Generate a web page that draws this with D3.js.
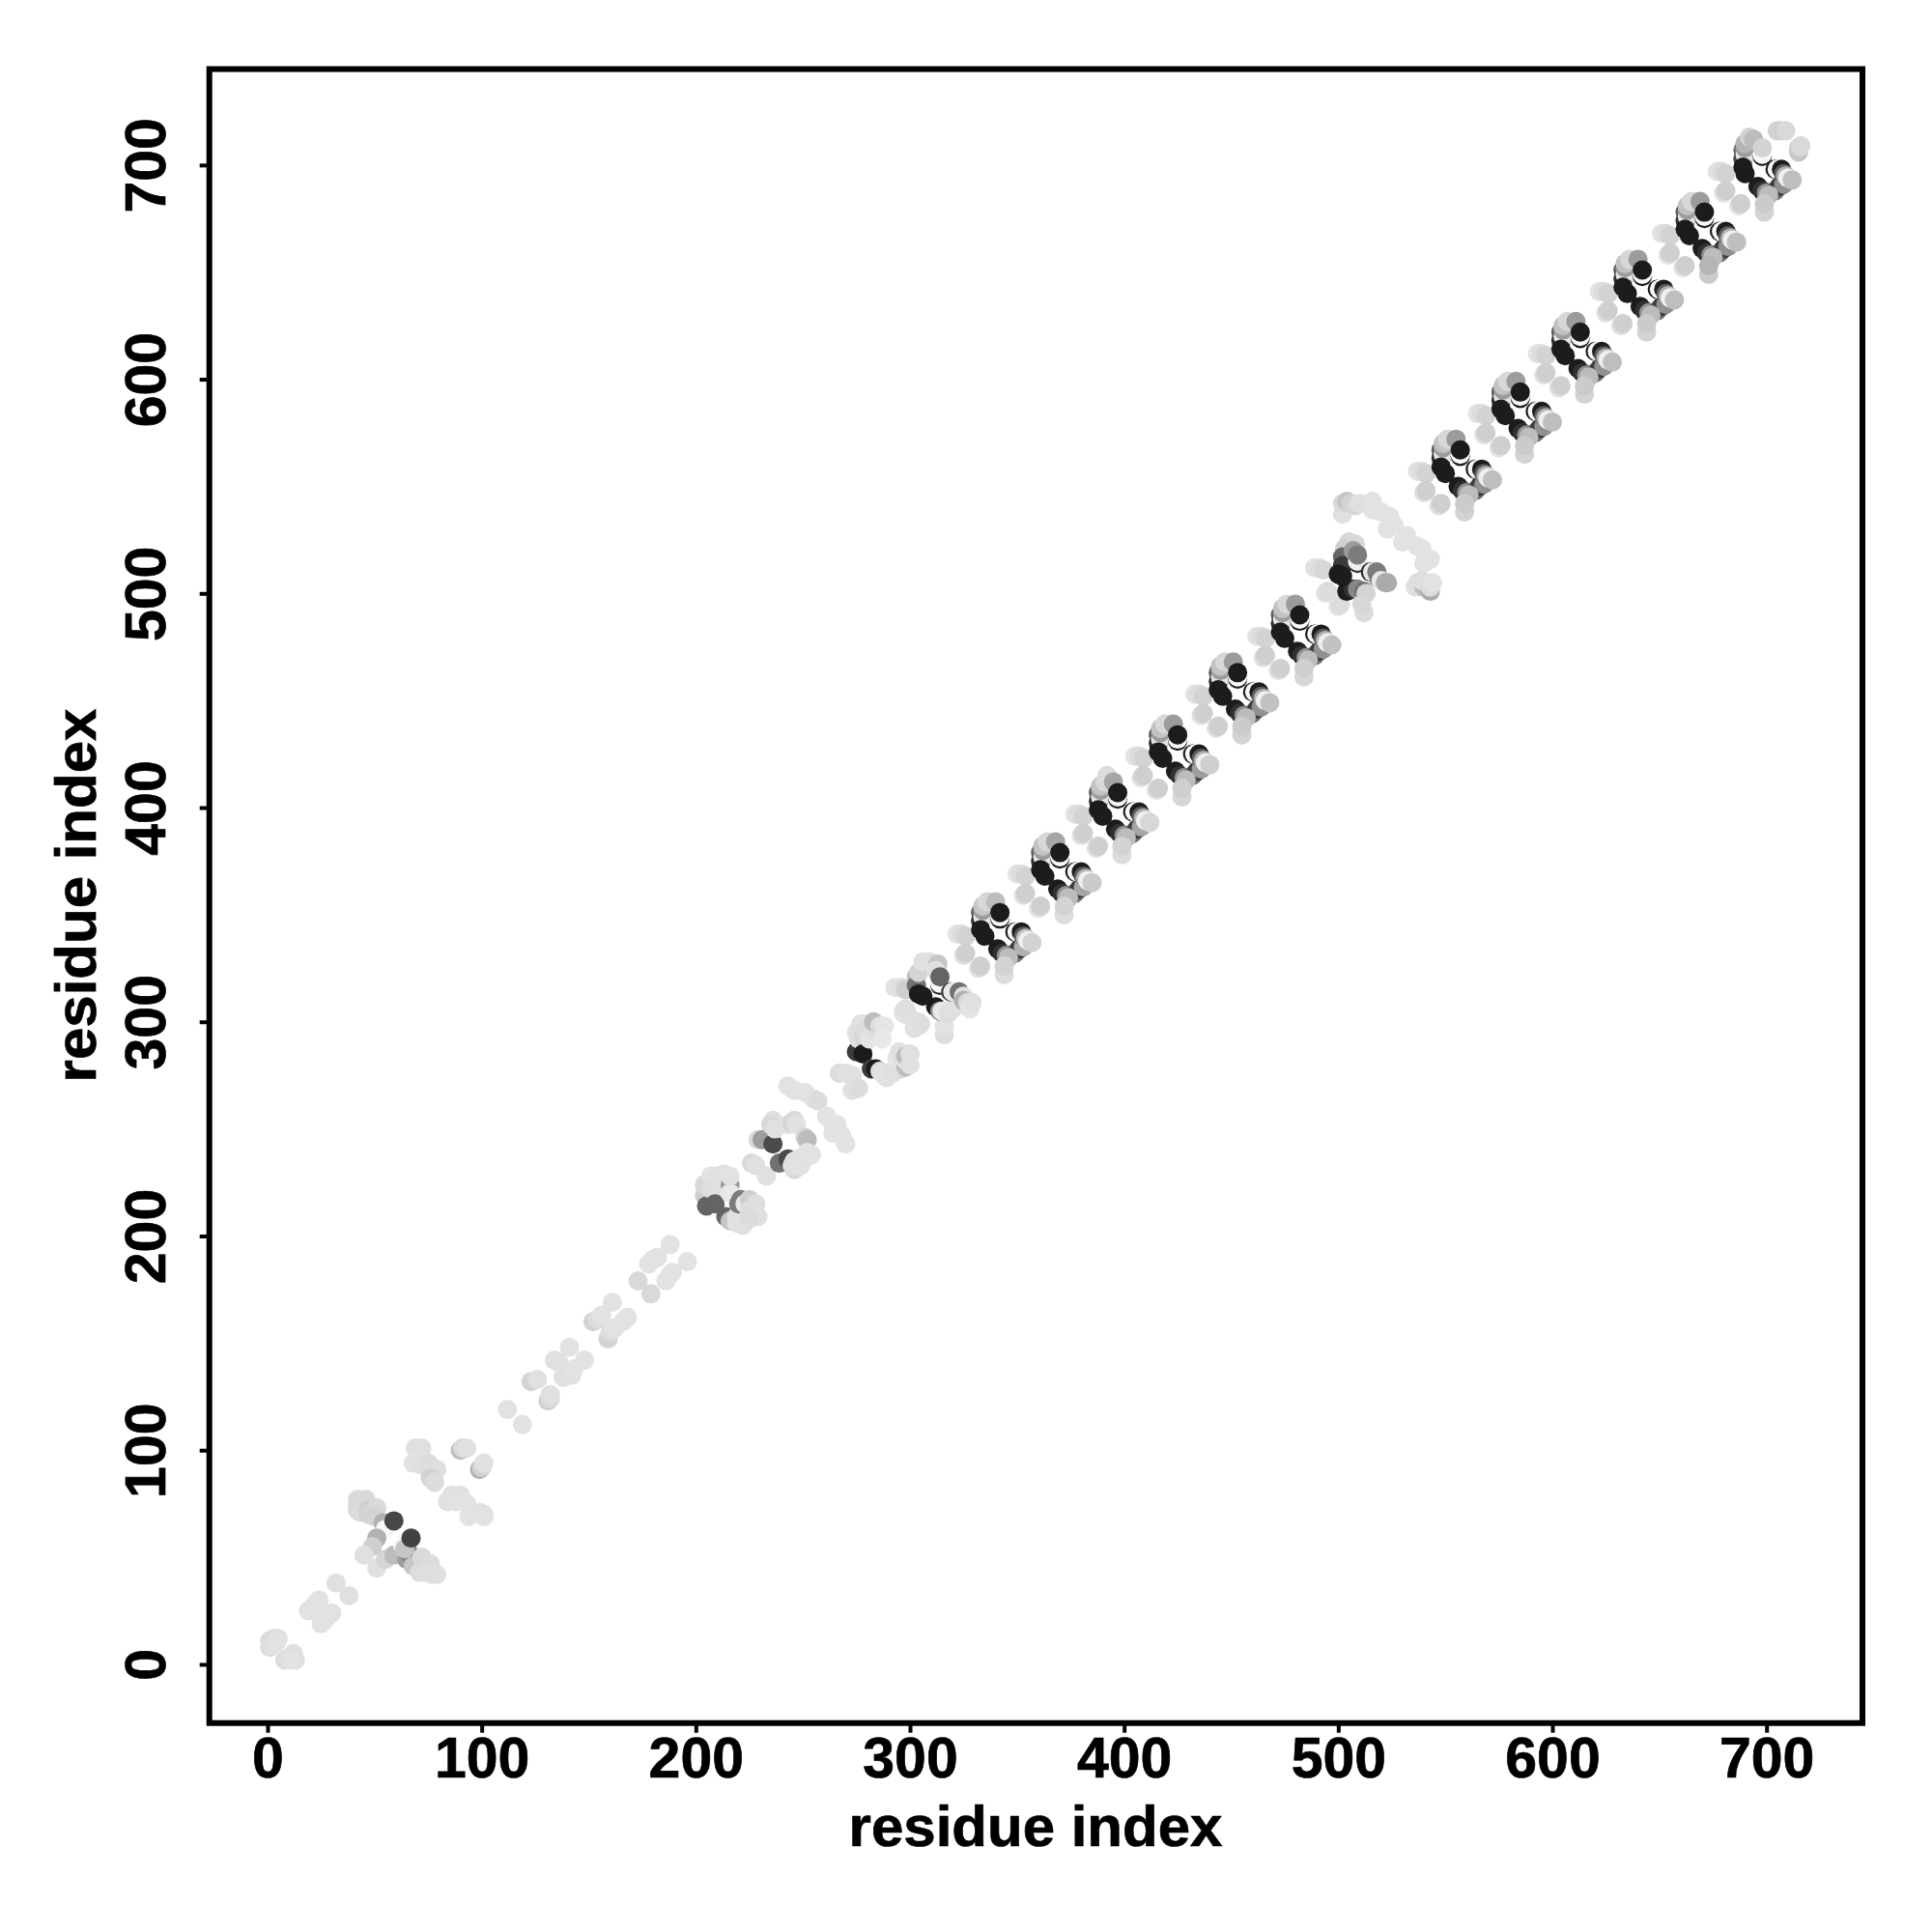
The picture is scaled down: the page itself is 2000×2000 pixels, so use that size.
<!DOCTYPE html>
<html><head><meta charset="utf-8">
<script src="https://cdn.jsdelivr.net/npm/d3@7"></script>
<style>html,body{margin:0;background:#fff}svg{display:block}</style></head>
<body><svg id="c" width="2000" height="2000"></svg>
<script>
const tickValues=[0,100,200,300,400,500,600,700];
const axisTitle="residue index";
// each contact: [residue i, residue j, strength 0-100]
const tail=[[1,8,10],[1,11,10],[2,9,8],[3,12,10],[5,12,8],[4,10,7],[8,2,10],[10,3,8],[12,5,8],[13,2,8],[11,2,7],
[19,25,7],[24,30,7],[25,19,7],[30,24,7],[22,28,7],[27,21,7],[32,38,8],[38,32,8]];
const helix1=[[42,77,11],[42,72,12],[42,74,11],[43,71,10],[46,77,11],[47,72,16],[47,70,14],[51,73,11],[50,69,14],
[54,66,30],[55,63,0],[59,67,80],[51,59,30],[49,55,16],[45,51,8],[51,45,8],[55,49,13],[59,51,25],
[65,49,40],[66,52,50],[63,56,0],[64,54,20],[67,59,82],[68,46,20],[72,50,11],[71,43,10],[74,46,12],[76,47,10],[74,43,9],[79,42,8],[77,42,9]];
const arc1=[[69,101,8],[72,101,8],[68,94,7],[72,93,8],[75,94,10],[77,90,9],[79,91,9],[76,87,14],[78,85,10],
[86,79,8],[90,79,8],[84,76,8],[88,76,7],[93,75,7],[94,69,7],[99,71,7],[101,70,8],[101,69,7],
[90,100,25],[91,101,11],[93,101,8],[99,91,28],[100,92,14],[101,94,8]];
const linker1=[[112,119,7],[119,112,7],[123,132,14],[126,133,8],[131,123,16],[132,124,11],[132,126,8],
[134,142,8],[136,141,8],[141,148,7],[148,142,7],[138,134,8],[142,135,8],[143,138,7],
[152,160,14],[154,161,10],[156,163,7],[161,169,7],[159,152,14],[160,155,10],[162,157,7],[166,160,7],[168,162,7],
[173,179,11],[179,173,11],[178,187,7],[180,189,7],[182,190,7],[186,179,7],[188,182,7],[189,183,7],[188,196,7],[196,188,7]];
const c17=[[204,219,16],[205,214,66],[204,224,11],[207,228,7],[207,222,9],[210,220,8],[209,215,66],[214,209,66],[216,207,20],[219,206,8],[222,205,8],[219,209,8],[222,209,7],
[210,228,8],[213,229,7],[212,224,8],[216,224,40],[216,220,5],[216,228,7],[220,215,55],[221,217,55],[223,215,5],[225,217,16],[225,212,9],[226,210,11],[228,215,9],[229,209,8],[225,208,10]];
const c16=[[226,234,11],[228,233,8],[233,228,8],[229,245,11],[231,245,40],[236,243,78],[236,254,8],[235,252,11],[237,250,8],[239,234,60],[243,236,78],[246,231,11],[245,233,8],[246,235,8],[248,236,8],[249,233,7],
[243,252,8],[245,253,14],[246,254,11],[247,252,8],[251,246,14],[252,245,25],[252,237,8],[252,239,7],[254,238,7]];
const arc2=[[243,270,7],[246,268,7],[251,267,7],[255,264,7],[257,263,10],[261,256,7],[264,252,7],[266,252,7],[264,248,7],[268,247,7],[270,243,7]];
const c15=[[267,276,10],[270,276,8],[273,275,8],[273,268,8],[276,269,10],[275,286,85],[276,292,8],[275,295,8],[277,299,8],[278,293,11],[278,285,100],[279,299,7],[279,296,10],[281,292,6],[283,296,8],[283,300,25],[286,298,8],[286,295,11],[288,298,6],[287,292,5],
[282,278,85],[284,278,100],[286,277,10],[288,275,8],[289,274,8],[287,276,7],[292,277,8],[292,276,8],[296,278,10],[296,279,8],[294,283,6],[295,286,8],[297,282,9],[298,279,25],[298,282,7],[298,284,25],[300,280,8],[300,285,8],[297,304,7],[299,303,8],[302,297,8],[304,298,7]];
const c14=[[293,316,7],[296,316,9],[298,315,16],[297,305,7],[298,306,9],[304,300,7],[305,299,9],[316,294,9],[316,298,7],
[312,307,100],[314,305,45],[315,305,5],[318,304,9],[320,306,8],[303,321,25],[303,317,60],[304,313,100],[306,312,100],[304,323,14],[306,328,8],[309,328,8],[313,327,20],[312,324,8],
[314,317,90],[314,318,0],[314,321,66],[319,314,85],[320,314,5],[323,314,60],[325,312,8],[325,310,30],[327,309,10],[328,306,6],[329,309,8]];
const c13=[[322,341,7],[324,341,10],[326,340,14],[325,331,8],[326,332,16],[332,325,8],[333,326,16],[344,322,10],[341,334,100],[343,332,90],[345,331,45],[349,332,60],[351,334,85],[353,335,30],[346,330,25],[344,326,14],[349,342,100],[350,342,0],[352,342,100],[353,340,70],[354,339,25],[355,338,3],[357,337,14],[333,351,70],[333,347,90],[334,349,6],[334,352,40],[334,354,20],[336,356,12],[333,343,100],[335,340,100],[340,356,24],[342,348,100],[342,349,0],[342,351,100]];
const c12=[[350,369,7],[352,369,10],[354,368,14],[353,359,8],[354,360,16],[360,353,8],[361,354,16],[372,350,10],[369,362,100],[371,360,90],[373,359,45],[377,360,60],[379,362,85],[381,363,35],[374,358,25],[372,354,14],[377,370,100],[378,370,0],[380,370,100],[381,368,70],[382,367,30],[383,366,3],[385,365,18],[361,379,70],[361,375,90],[362,377,6],[362,380,40],[362,382,22],[364,384,12],[361,371,100],[363,368,100],[368,384,35],[370,376,100],[370,377,0],[370,379,100]];
const c11=[[377,397,7],[379,397,10],[381,396,14],[380,387,8],[381,388,16],[387,381,8],[388,382,16],[399,378,10],[396,390,100],[398,388,90],[400,387,45],[404,388,60],[406,390,85],[408,391,35],[401,386,25],[399,382,14],[404,398,100],[405,398,0],[407,398,100],[408,396,70],[409,395,30],[410,394,3],[412,393,12],[388,407,70],[388,403,90],[389,405,6],[389,408,40],[389,410,22],[391,412,12],[392,415,10],[388,399,100],[390,396,100],[395,412,35],[397,404,100],[397,405,0],[397,407,100]];
const c10=[[405,424,7],[407,424,10],[409,423,14],[408,414,8],[409,415,16],[415,408,8],[416,409,16],[427,405,12],[424,417,100],[426,415,90],[428,414,45],[432,415,60],[434,417,85],[436,418,40],[429,413,25],[427,409,16],[432,425,100],[433,425,0],[435,425,100],[436,423,70],[437,422,30],[438,421,3],[440,420,16],[416,434,70],[416,430,90],[417,432,6],[417,435,40],[417,437,22],[419,439,12],[416,426,100],[418,423,100],[423,439,40],[425,431,100],[425,432,0],[425,434,100]];
const c9=[[433,453,7],[435,453,10],[437,452,14],[436,443,8],[437,444,16],[443,437,8],[444,438,16],[455,434,14],[452,446,100],[454,444,90],[456,443,45],[460,444,60],[462,446,85],[464,447,45],[457,442,25],[455,438,18],[460,454,100],[461,454,0],[463,454,100],[464,452,70],[465,451,30],[466,450,3],[468,449,22],[444,463,70],[444,459,90],[445,461,6],[445,464,40],[445,466,22],[447,468,12],[444,455,100],[446,452,100],[451,468,40],[453,460,100],[453,461,0],[453,463,100]];
const c8=[[462,480,7],[464,480,10],[466,479,14],[465,470,8],[466,471,16],[472,464,8],[473,465,16],[484,461,12],[481,473,100],[483,471,90],[485,470,45],[489,471,60],[491,473,85],[493,474,45],[486,469,25],[484,465,16],[489,481,100],[490,481,0],[492,481,100],[493,479,70],[494,478,30],[495,477,3],[497,476,22],[473,490,70],[473,486,90],[474,488,6],[474,491,40],[474,493,22],[476,495,12],[473,482,100],[475,479,100],[480,495,40],[482,487,100],[482,488,0],[482,490,100]];
const c7=[[489,512,7],[491,512,9],[493,511,12],[494,500,7],[495,501,10],[500,494,7],[501,495,10],[504,501,100],[507,502,90],[509,502,50],[512,501,60],[513,500,14],[512,491,10],[511,495,12],
[505,524,12],[503,521,16],[502,517,65],[502,513,85],[500,509,100],[502,508,100],[508,523,12],[507,520,40],[509,514,90],[509,515,3],[509,518,55],[515,510,95],[516,510,5],[518,510,55],[519,507,55],[520,506,5],[522,505,33],[523,505,33]];
const arc3=[[502,537,8],[502,542,11],[504,543,20],[506,542,14],[508,541,12],[510,542,8],[516,543,7],[516,539,7],[520,538,7],[524,536,7],[526,532,7],[523,530,7],[532,527,7],[530,524,7],[537,522,7],[539,521,7],[543,516,7],[540,514,7],
[536,503,8],[537,505,9],[540,503,25],[539,506,9],[543,501,33],[543,503,10],[544,505,7]];
const c6=[[537,557,7],[539,557,10],[541,556,14],[540,547,8],[541,548,16],[547,541,8],[548,542,16],[559,538,14],[556,550,100],[558,548,90],[560,547,45],[564,548,60],[566,550,85],[568,551,45],[561,546,25],[559,542,18],[564,558,100],[565,558,0],[567,558,100],[568,556,70],[569,555,30],[570,554,3],[572,553,24],[548,567,70],[548,563,90],[549,565,6],[549,568,40],[549,570,22],[551,572,12],[548,559,100],[550,556,100],[555,572,40],[557,564,100],[557,565,0],[557,567,100]];
const c5=[[565,584,7],[567,584,10],[569,583,14],[568,574,8],[569,575,16],[575,568,8],[576,569,16],[587,565,14],[584,577,100],[586,575,90],[588,574,45],[592,575,60],[594,577,85],[596,578,45],[589,573,25],[587,569,18],[592,585,100],[593,585,0],[595,585,100],[596,583,70],[597,582,30],[598,581,3],[600,580,24],[576,594,70],[576,590,90],[577,592,6],[577,595,40],[577,597,22],[579,599,12],[576,586,100],[578,583,100],[583,599,40],[585,591,100],[585,592,0],[585,594,100]];
const c4=[[593,612,7],[595,612,10],[597,611,14],[596,602,8],[597,603,16],[603,596,8],[604,597,16],[615,593,14],[612,605,100],[614,603,90],[616,602,45],[620,603,60],[622,605,85],[624,606,45],[617,601,25],[615,597,18],[620,613,100],[621,613,0],[623,613,100],[624,611,70],[625,610,30],[626,609,3],[628,608,24],[604,622,70],[604,618,90],[605,620,6],[605,623,40],[605,625,22],[607,627,12],[604,614,100],[606,611,100],[611,627,40],[613,619,100],[613,620,0],[613,622,100]];
const c3=[[622,641,7],[624,641,10],[626,640,14],[625,631,8],[626,632,16],[632,625,8],[633,626,16],[644,622,14],[641,634,100],[643,632,90],[645,631,45],[649,632,60],[651,634,85],[653,635,45],[646,630,25],[644,626,18],[649,642,100],[650,642,0],[652,642,100],[653,640,70],[654,639,30],[655,638,3],[657,637,24],[633,651,70],[633,647,90],[634,649,6],[634,652,40],[634,654,22],[636,656,12],[633,643,100],[635,640,100],[640,656,40],[642,648,100],[642,649,0],[642,651,100]];
const c2=[[651,668,7],[653,668,10],[655,667,14],[654,658,8],[655,659,16],[661,652,8],[662,653,16],[673,649,18],[670,661,100],[672,659,90],[674,658,45],[678,659,60],[680,661,85],[682,662,45],[675,657,25],[673,653,28],[678,669,100],[679,669,0],[681,669,100],[682,667,70],[683,666,30],[684,665,3],[686,664,24],[662,678,70],[662,674,90],[663,676,6],[663,679,40],[663,681,22],[665,683,12],[662,670,100],[664,667,100],[669,683,40],[671,675,100],[671,676,0],[671,678,100]];
const c1=[[677,697,7],[679,697,10],[681,696,14],[680,687,8],[681,688,16],[687,681,8],[688,682,16],[699,678,14],[696,690,100],[698,688,90],[700,687,45],[704,688,60],[706,690,85],[708,691,45],[701,686,25],[699,682,18],[704,698,100],[705,698,0],[707,698,100],[708,696,70],[709,695,30],[710,694,3],[712,693,24],
[689,707,60],[689,703,80],[690,705,6],[690,708,40],[690,710,28],[692,713,14],[689,699,100],[690,696,100],[694,712,25],[698,704,100],[698,705,0],[698,708,14],
[705,716,14],[707,716,16],[709,716,11],[715,706,20],[715,708,16],[716,709,11]];
const groups=[tail,helix1,arc1,linker1,c17,c16,arc2,c15,c14,c13,c12,c11,c10,c9,c8,c7,arc3,c6,c5,c4,c3,c2,c1];

const svg=d3.select("#c");
const x=d3.scaleLinear().domain([-27.2,744.8]).range([216.7,1928]);
const y=d3.scaleLinear().domain([-27.4,744.8]).range([1783.7,71.5]);
const shade=d3.scaleLinear().domain([0,7,100]).range([248,226,28]);
const font="'Liberation Sans',Arial,sans-serif";

svg.append("g").selectAll("g").data(groups).join("g").selectAll("circle")
  .data(d=>d).join("circle")
  .attr("cx",d=>x(d[0])).attr("cy",d=>y(d[1])).attr("r",10)
  .attr("fill",d=>{const g=Math.round(shade(d[2]));return `rgb(${g},${g},${g})`;});

svg.append("rect").attr("x",216.7).attr("y",71.5).attr("width",1928-216.7).attr("height",1783.7-71.5)
  .attr("fill","none").attr("stroke","#000").attr("stroke-width",6);

const ax=svg.append("g").attr("transform","translate(0,1783.7)")
  .call(d3.axisBottom(x).tickValues(tickValues).tickSize(10).tickPadding(2).tickFormat(d3.format("d")));
const ay=svg.append("g").attr("transform","translate(216.7,0)")
  .call(d3.axisLeft(y).tickValues(tickValues).tickSize(10).tickFormat(d3.format("d")));
[ax,ay].forEach(a=>{a.select(".domain").remove();
  a.selectAll("line").attr("stroke","#000").attr("stroke-width",4);
  a.selectAll("text").attr("fill","#000").attr("stroke","#000").attr("stroke-width",0.7).attr("font-family",font).attr("font-weight","bold").attr("font-size",59);});
ax.selectAll("text").attr("y",null).attr("dy",null).attr("text-anchor","middle").attr("transform","translate(0,56.5)");
ay.selectAll("text").attr("x",null).attr("dy",null).attr("text-anchor","middle").attr("transform","translate(-46,0) rotate(-90)");

svg.append("text").attr("x",1072).attr("y",1911).attr("text-anchor","middle").attr("stroke","#000").attr("stroke-width",0.7)
  .attr("font-family",font).attr("font-weight","bold").attr("font-size",60).text(axisTitle);
svg.append("text").attr("transform","translate(99,927) rotate(-90)").attr("text-anchor","middle").attr("stroke","#000").attr("stroke-width",0.7)
  .attr("font-family",font).attr("font-weight","bold").attr("font-size",60).text(axisTitle);
</script></body></html>
